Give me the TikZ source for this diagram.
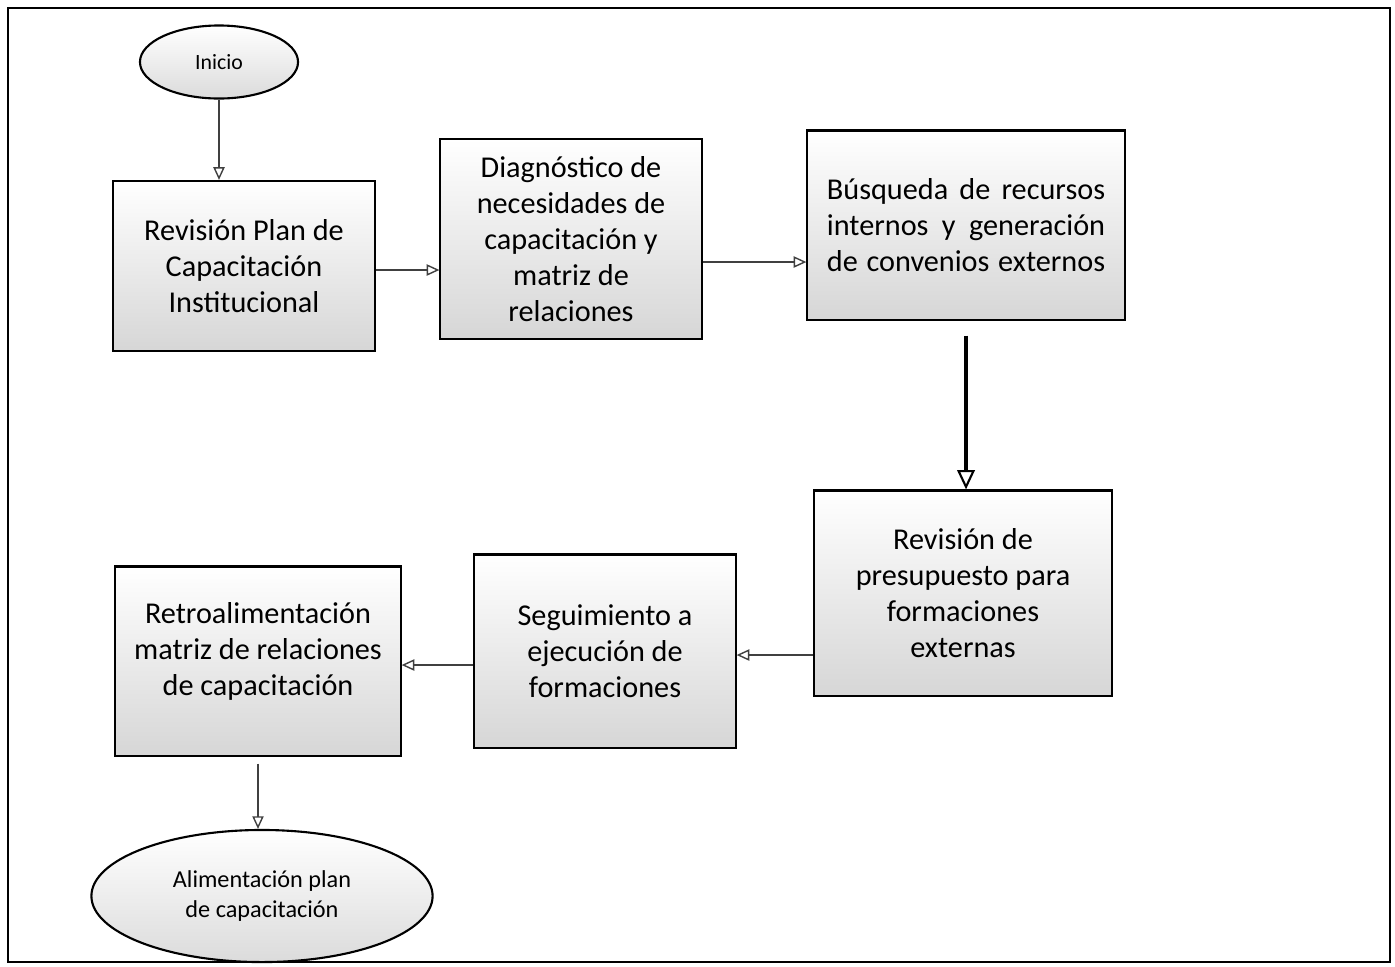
\documentclass[tikz,border=0pt]{standalone}
\usepackage{fontspec}
\setmainfont{Carlito}
\usetikzlibrary{shapes.geometric,arrows.meta}

\begin{document}
\begin{tikzpicture}[x=0.01cm,y=-0.01cm,->,>={Triangle[open,length=3.6pt,width=3.2pt]},semithick]
\tikzstyle{proceso}=[rectangle,draw=black,line width=0.6pt,top color=white,bottom color=gray!32,align=center,font=\fontsize{8.6}{10.2}\selectfont,inner sep=2pt]
\tikzstyle{terminal}=[ellipse,draw=black,line width=0.6pt,top color=white,bottom color=gray!28,align=center,inner sep=1pt]
\tikzstyle{flecha}=[draw=black!75,line width=0.4pt]
\useasboundingbox (0,0) rectangle (1395,966);
\draw[-,line width=0.6pt] (8,8) rectangle (1390,962);

\node[terminal,minimum width=1.58cm,minimum height=0.73cm,font=\fontsize{6.2}{7.2}\selectfont] (inicio) at (219,62) {Inicio};
\node[proceso,minimum width=2.62cm,minimum height=1.70cm] (revision) at (244,266) {Revisión Plan de\\Capacitación\\Institucional};
\node[proceso,minimum width=2.61cm,minimum height=2.00cm] (diagnostico) at (571,239) {Diagnóstico de\\necesidades de\\capacitación y\\matriz de\\relaciones};
\node[proceso,minimum width=3.17cm,minimum height=1.89cm] (busqueda) at (966,225) {\makebox[2.78cm][s]{Búsqueda de recursos}\\\makebox[2.78cm][s]{internos y generación}\\\makebox[2.78cm][s]{de convenios externos}};
\node[proceso,minimum width=2.98cm,minimum height=2.05cm] (presupuesto) at (963,593) {Revisión de\\presupuesto para\\formaciones\\externas};
\node[proceso,minimum width=2.61cm,minimum height=1.93cm] (seguimiento) at (605,651) {Seguimiento a\\ejecución de\\formaciones};
\node[proceso,minimum width=2.85cm,minimum height=1.89cm] (retro) at (258,661) {Retroalimentación\\matriz de relaciones\\de capacitación\rule[-0.24cm]{0pt}{0.24cm}};
\node[terminal,minimum width=3.41cm,minimum height=1.32cm,font=\fontsize{6.9}{8.4}\selectfont] (fin) at (262,896) {Alimentación plan\\de capacitación};

\draw[flecha] (inicio.south) -- (inicio.south |- revision.north);
\draw[flecha] (revision.east |- 0,270) -- (diagnostico.west |- 0,270);
\draw[flecha] (diagnostico.east |- 0,262) -- (busqueda.west |- 0,262);
\draw[line width=1.2pt,>={Triangle[open,length=5.5pt,width=5pt,line width=0.6pt]},shorten <=0.15cm] (busqueda.south) -- (busqueda.south |- presupuesto.north);
\draw[flecha] (presupuesto.west |- 0,655) -- (seguimiento.east |- 0,655);
\draw[flecha] (seguimiento.west |- 0,665) -- (retro.east |- 0,665);
\draw[flecha,shorten <=0.07cm] (retro.south) -- (retro.south |- fin.north);
\end{tikzpicture}
\end{document}
